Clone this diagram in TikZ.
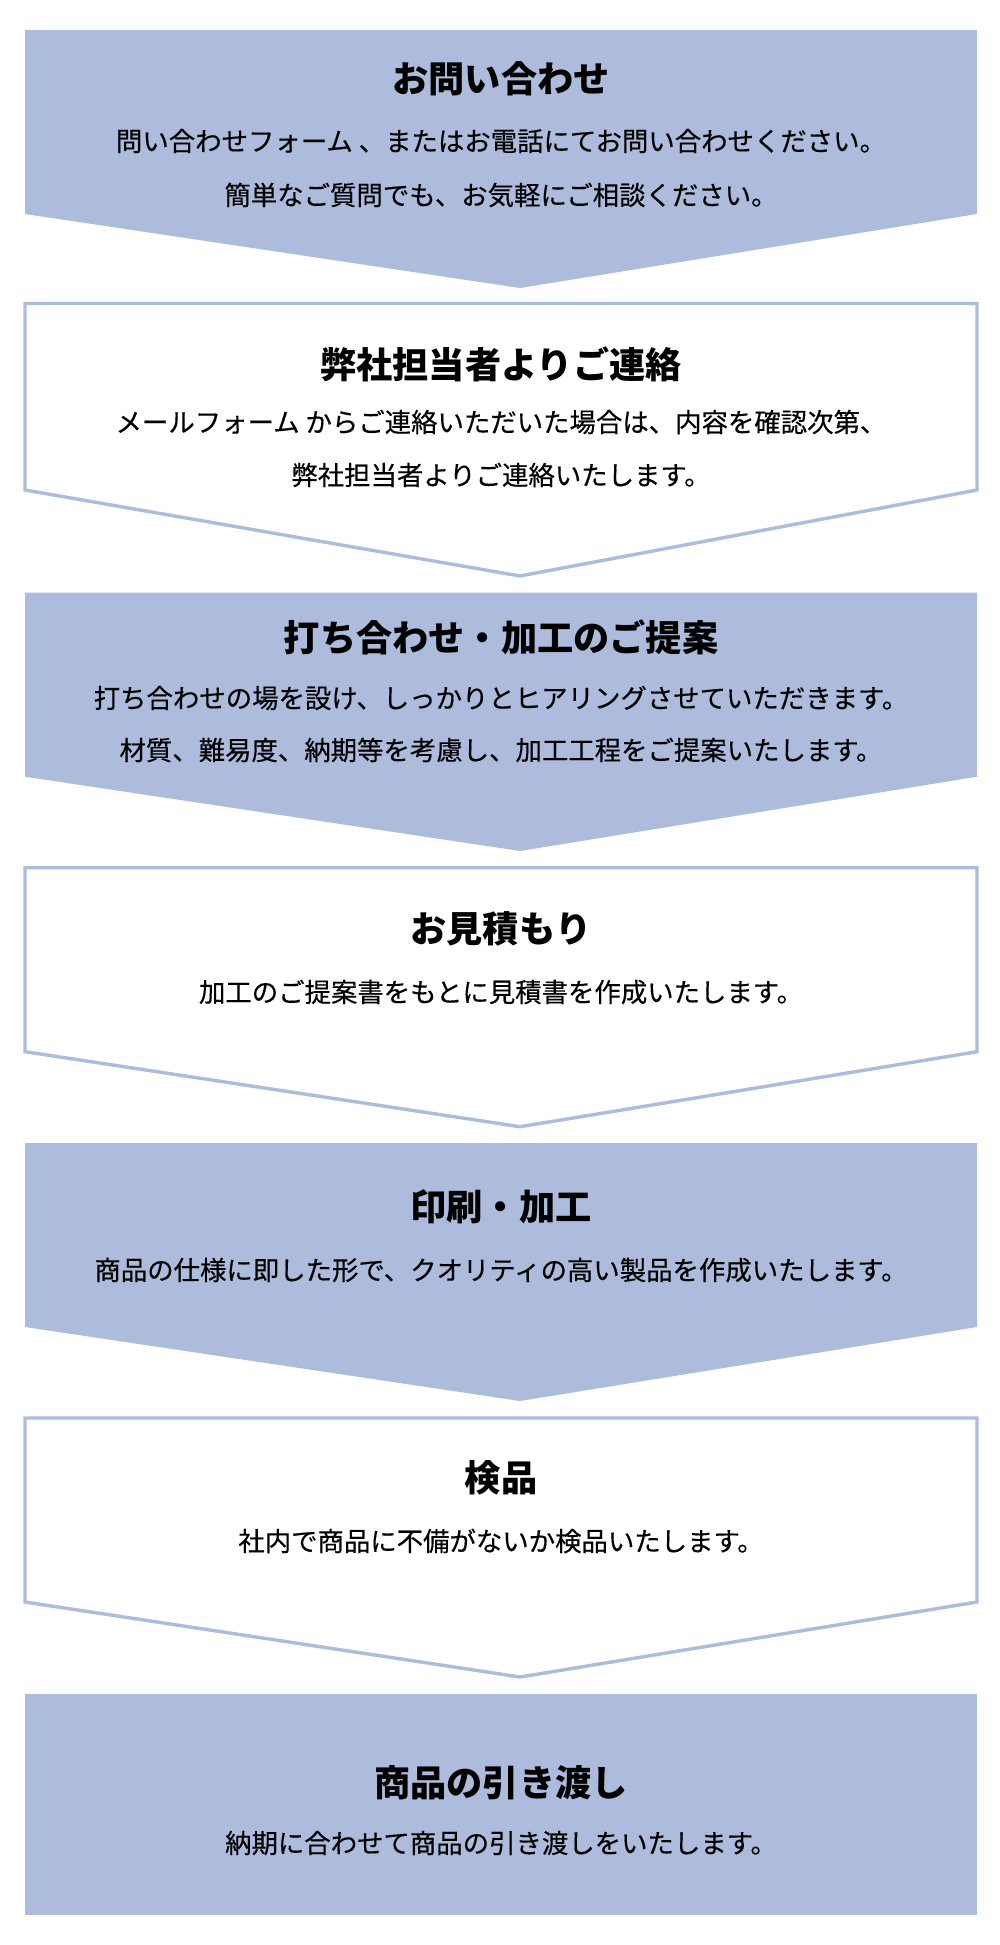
\documentclass[tikz,border=0pt]{standalone}
\usepackage{fontspec}
\setmainfont{Noto Sans CJK JP}
\newfontfamily\medfont{Noto Sans CJK JP}[FakeBold=0.35]
\usepackage{tikz}
\definecolor{flowblue}{RGB}{173,188,220}
\tikzset{boxfill/.style={fill=flowblue},
  boxline/.style={draw=flowblue, line width=1.7pt, fill=white},
  headtext/.style={inner sep=0pt, font=\bfseries\fontsize{18.1}{22}\selectfont},
  bodytext/.style={inner sep=0pt, font=\medfont\fontsize{13.2}{16}\selectfont}}

\begin{document}
\begin{tikzpicture}[x=0.5pt,y=-0.5pt]
    \useasboundingbox (0,0) rectangle (1000,1945);
    % Step 1: filled chevron
    \fill[boxfill] (25,30) -- (977,30) -- (977,214) 
    -- (520,288) -- (25,214) -- cycle;
    \node[headtext] (t1) at (501,79) {お問い合わせ};
    \node[bodytext] (b1a) at (501,141) 
    {問い合わせフォーム 、またはお電話にてお問い合わせください。};
    \node[bodytext] (b1b) at (501,195) 
    {簡単なご質問でも、お気軽にご相談ください。};
    % Step 2: outlined chevron
    \draw[boxline] (25,303.5) -- (977,303.5) -- (977,490) 
    -- (520,576) -- (25,490) -- cycle;
    \node[headtext] (t2) at (501,364) {弊社担当者よりご連絡};
    \node[bodytext] (b2a) at (501,422) 
    {メールフォーム からご連絡いただいた場合は、内容を確認次第、};
    \node[bodytext] (b2b) at (501,475) 
    {弊社担当者よりご連絡いたします。};
    % Step 3
    \fill[boxfill] (25,592.7) -- (977,592.7) -- (977,776.7) 
    -- (520,851) -- (25,776.7) -- cycle;
    \node[headtext] (t3) at (501,637) {打ち合わせ・加工のご提案};
    \node[bodytext] (b3a) at (501,698) 
    {打ち合わせの場を設け、しっかりとヒアリングさせていただきます。};
    \node[bodytext] (b3b) at (501,750) 
    {材質、難易度、納期等を考慮し、加工工程をご提案いたします。};
    % Step 4
    \draw[boxline] (25,867.7) -- (977,867.7) -- (977,1051.7) 
    -- (520,1126.7) -- (25,1051.7) -- cycle;
    \node[headtext] (t4) at (501,929) {お見積もり};
    \node[bodytext] (b4a) at (501,992) 
    {加工のご提案書をもとに見積書を作成いたします。};
    % Step 5
    \fill[boxfill] (25,1143) -- (977,1143) -- (977,1327) 
    -- (520,1401) -- (25,1327) -- cycle;
    \node[headtext] (t5) at (501,1207) {印刷・加工};
    \node[bodytext] (b5a) at (501,1270) 
    {商品の仕様に即した形で、クオリティの高い製品を作成いたします。};
    % Step 6
    \draw[boxline] (25,1418) -- (977,1418) -- (977,1602) 
    -- (520,1677) -- (25,1602) -- cycle;
    \node[headtext] (t6) at (501,1478) {検品};
    \node[bodytext] (b6a) at (501,1541) 
    {社内で商品に不備がないか検品いたします。};
    % Step 7: plain rectangle
    \fill[boxfill] (25,1694) rectangle (977,1915);
    \node[headtext] (t7) at (501,1783) {商品の引き渡し};
    \node[bodytext] (b7a) at (501,1843) 
    {納期に合わせて商品の引き渡しをいたします。};
\end{tikzpicture}
\end{document}
